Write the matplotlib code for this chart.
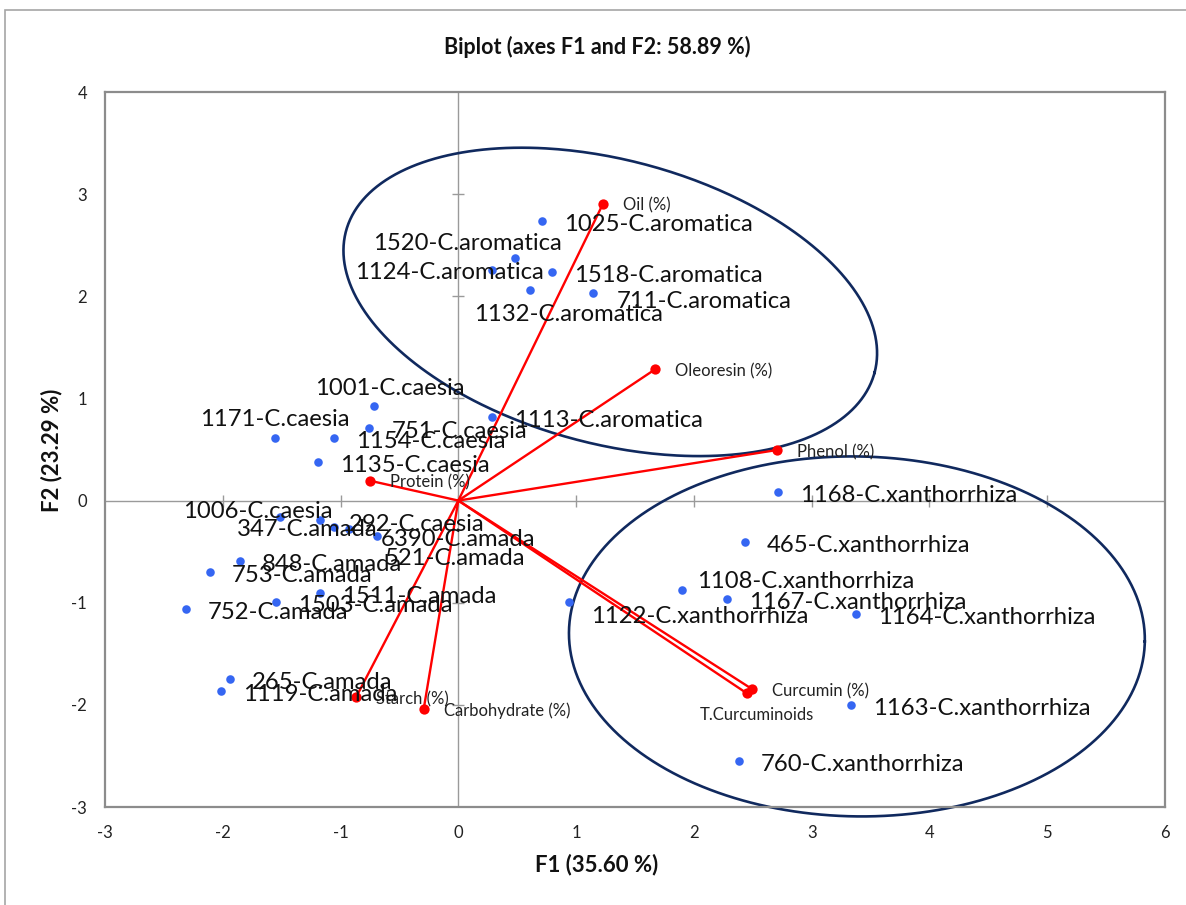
import numpy as np
import matplotlib
matplotlib.use("Agg")
import matplotlib.pyplot as plt
from matplotlib.patches import Rectangle

plt.rcParams['font.family'] = ['Lato', 'DejaVu Sans']
plt.rcParams['axes.unicode_minus'] = False

# ---- observations (factor scores) ----
obs_labels = [
    "1025-C.aromatica", "1520-C.aromatica", "1124-C.aromatica", "1518-C.aromatica",
    "1132-C.aromatica", "711-C.aromatica", "1113-C.aromatica",
    "1001-C.caesia", "1171-C.caesia", "751-C.caesia", "1154-C.caesia", "1135-C.caesia",
    "1006-C.caesia", "292-C.caesia",
    "347-C.amada", "6390-C.amada", "521-C.amada", "848-C.amada", "753-C.amada",
    "1511-C.amada", "1503-C.amada", "752-C.amada", "265-C.amada", "1119-C.amada",
    "1168-C.xanthorrhiza", "465-C.xanthorrhiza", "1108-C.xanthorrhiza",
    "1167-C.xanthorrhiza", "1122-C.xanthorrhiza", "1164-C.xanthorrhiza",
    "1163-C.xanthorrhiza", "760-C.xanthorrhiza",
]
obs_f1 = [0.713, 0.484, 0.286, 0.795, 0.606, 1.143, 0.289,
          -0.719, -1.553, -0.756, -1.059, -1.191, -1.511, -1.171,
          -1.053, -0.931, -0.690, -1.851, -2.111, -1.171, -1.545, -2.312, -1.941, -2.012,
          2.717, 2.431, 1.898, 2.285, 0.943, 3.373, 3.334, 2.383]
obs_f2 = [2.738, 2.370, 2.259, 2.236, 2.063, 2.030, 0.822,
          0.927, 0.613, 0.714, 0.616, 0.375, -0.164, -0.190,
          -0.256, -0.281, -0.344, -0.589, -0.699, -0.902, -0.993, -1.062, -1.747, -1.868,
          0.084, -0.408, -0.879, -0.964, -0.996, -1.114, -2.005, -2.551]

# ---- variables (loadings) ----
var_labels = ["Oil (%)", "Oleoresin (%)", "Phenol (%)", "Protein (%)",
              "Starch (%)", "Carbohydrate (%)", "Curcumin (%)", "T.Curcuminoids"]
var_f1 = [1.228, 1.672, 2.705, -0.753, -0.869, -0.294, 2.493, 2.451]
var_f2 = [2.905, 1.286, 0.495, 0.195, -1.927, -2.041, -1.845, -1.888]

x_ticks = [-3, -2, -1, 0, 1, 2, 3, 4, 5, 6]
y_ticks = [-3, -2, -1, 0, 1, 2, 3, 4]

# label placement: (dx, dy) in pixels from the point, to the label's left / mid-height
default_obs_off = (22, -2)
obs_off = {
    "1520-C.aromatica": (-142, 16), "1124-C.aromatica": (-137, -1),
    "1132-C.aromatica": (-56, -23), "711-C.aromatica": (24, -7),
    "1001-C.caesia": (-59, 19), "1171-C.caesia": (-75, 20),
    "1006-C.caesia": (-97, 7), "292-C.caesia": (28, -3),
    "347-C.amada": (-97, -1), "6390-C.amada": (32, -9), "521-C.amada": (8, -21),
    "1108-C.xanthorrhiza": (15, 10), "1122-C.xanthorrhiza": (22, -13),
}
default_var_off = (20, -1)
var_off = {"T.Curcuminoids": (-47, -21)}

W, H = 1186, 905
fig = plt.figure(figsize=(W / 100, H / 100), dpi=100)
ax = fig.add_axes([105 / W, 1 - 807 / H, 1060 / W, 715 / H])

# chart border
fig.patches.append(Rectangle((5 / W, -0.1), 1.2, 1 - 10 / H + 0.1, transform=fig.transFigure,
                             fill=False, edgecolor='#A6A6A6', linewidth=1.2, clip_on=False))

ax.set_xlim(x_ticks[0], x_ticks[-1])
ax.set_ylim(y_ticks[0], y_ticks[-1])
ax.set_xticks(x_ticks)
ax.set_yticks(y_ticks)
ax.tick_params(length=0, labelsize=12, colors='#222222', pad=13)
ax.tick_params(axis='y', pad=13)
for s in ax.spines.values():
    s.set_color('#8C8C8C')
    s.set_linewidth(1.6)

# zero axes with crossing tick marks
ax.axhline(0, color='#9A9A9A', lw=1.0, zorder=1)
ax.axvline(0, color='#9A9A9A', lw=1.0, zorder=1)
ax.plot(x_ticks[1:-1], [0] * len(x_ticks[1:-1]), ls='none', marker='|', ms=9, mew=1.0,
        color='#9A9A9A', zorder=1)
ax.plot([0] * len(y_ticks[1:-1]), y_ticks[1:-1], ls='none', marker='_', ms=9, mew=1.0,
        color='#9A9A9A', zorder=1)

fig.text(597 / W, 1 - 47 / H, "Biplot (axes F1 and F2: 58.89 %)", fontsize=15.5,
         fontweight='bold', ha='center', va='center', color='#111111')
fig.text(597 / W, 1 - 865 / H, "F1 (35.60 %)", fontsize=16,
         fontweight='bold', ha='center', va='center', color='#111111')
fig.text(52 / W, 1 - 450 / H, "F2 (23.29 %)", fontsize=16, rotation=90,
         fontweight='bold', ha='center', va='center', color='#111111')

# group ellipses, drawn round in screen space
bb = ax.get_window_extent()
sx = bb.width / (x_ticks[-1] - x_ticks[0])
sy = bb.height / (y_ticks[-1] - y_ticks[0])


def group_ellipse(cx, cy, a, b, ang):
    t = np.linspace(0, 2 * np.pi, 400)
    u, v = a * np.cos(t), b * np.sin(t)
    r = np.deg2rad(ang)
    uu = u * np.cos(r) - v * np.sin(r)
    vv = u * np.sin(r) + v * np.cos(r)
    ax.plot(cx + uu, cy + vv * sx / sy, color='#10295E', lw=1.9, zorder=2, clip_on=False)


group_ellipse(1.290, 1.945, 2.323, 1.204, -15)
group_ellipse(3.384, -1.330, 2.445, 1.528, -1)

# variable vectors
for lab, x, y in zip(var_labels, var_f1, var_f2):
    ax.plot([0, x], [0, y], color='#FF0000', lw=1.7, zorder=3)
ax.scatter(var_f1, var_f2, s=55, color='#FF0000', zorder=4, linewidths=0)
for lab, x, y in zip(var_labels, var_f1, var_f2):
    dx, dy = var_off.get(lab, default_var_off)
    ax.annotate(lab, (x, y), xytext=(dx, dy - 6), textcoords='offset pixels',
                fontsize=12, va='baseline', ha='left', color='#222222', zorder=5)

# observations
ax.scatter(obs_f1, obs_f2, s=38, color='#3566F2', zorder=4, linewidths=0)
for lab, x, y in zip(obs_labels, obs_f1, obs_f2):
    dx, dy = obs_off.get(lab, default_obs_off)
    ax.annotate(lab, (x, y), xytext=(dx, dy - 8), textcoords='offset pixels',
                fontsize=17.2, va='baseline', ha='left', color='#111111', zorder=5)

fig.savefig("out.png", dpi=100)
